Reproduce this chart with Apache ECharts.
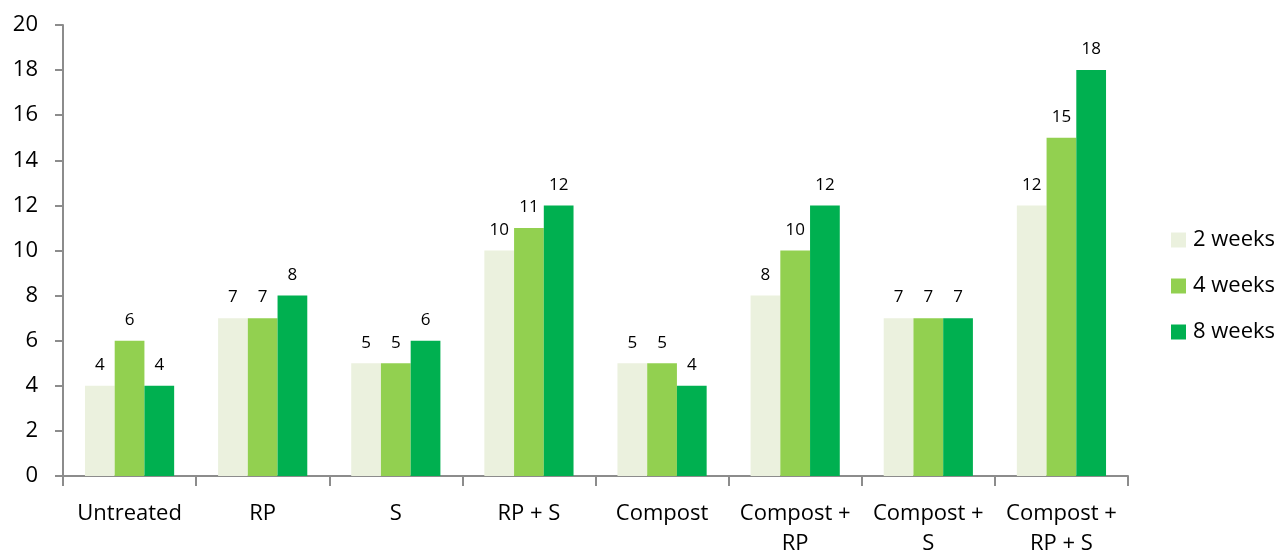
<!DOCTYPE html>
<html>
<head>
<meta charset="utf-8">
<script src="https://cdn.jsdelivr.net/npm/echarts@6/dist/echarts.min.js"></script>
<style>
  html, body { margin: 0; padding: 0; background: #fff; }
  #chart { width: 1281px; height: 551px; }
</style>
</head>
<body>
<div id="chart"></div>
<script>
// Treatments along the x axis
const categories = ['Untreated', 'RP', 'S', 'RP + S', 'Compost', 'Compost +\nRP', 'Compost +\nS', 'Compost +\nRP + S'];

// Values per sampling time
const weeks2 = [4, 7, 5, 10, 5, 8, 7, 12];
const weeks4 = [6, 7, 5, 11, 5, 10, 7, 15];
const weeks8 = [4, 8, 6, 12, 4, 12, 7, 18];

const seriesNames = ['2 weeks', '4 weeks', '8 weeks'];
const seriesColors = ['#EBF1DE', '#92D050', '#00B050'];

const font = '"Open Sans", Lato, sans-serif';

const chart = echarts.init(document.getElementById('chart'));

function barSeries(name, data, color) {
  return {
    name: name,
    type: 'bar',
    data: data,
    barGap: '0%',
    barCategoryGap: '33%',
    itemStyle: { color: color },
    label: {
      show: true,
      position: 'top',
      distance: 12,
      color: '#000',
      fontFamily: font,
      fontSize: 17
    }
  };
}

chart.setOption({
  backgroundColor: '#fff',
  animation: false,
  textStyle: { fontFamily: font },
  grid: { left: 63, right: 153, top: 25, bottom: 75, containLabel: false, outerBoundsMode: 'none' },
  legend: {
    orient: 'vertical',
    left: 1166,
    top: 224,
    itemWidth: 15,
    itemHeight: 15,
    itemGap: 24,
    icon: 'rect',
    textStyle: { fontFamily: font, fontSize: 22, color: '#000', padding: [0, 0, 0, 2] },
    data: seriesNames
  },
  xAxis: {
    type: 'category',
    data: categories,
    axisLine: { lineStyle: { color: '#8c8c8c', width: 2 } },
    axisTick: { show: true, length: 10, alignWithLabel: false, lineStyle: { color: '#8c8c8c', width: 2 } },
    axisLabel: { color: '#000', fontFamily: font, fontSize: 22, margin: 23, lineHeight: 30, interval: 0 }
  },
  yAxis: {
    type: 'value',
    min: 0,
    max: 20,
    interval: 2,
    splitLine: { show: false },
    axisLine: { show: true, lineStyle: { color: '#8c8c8c', width: 2 } },
    axisTick: { show: true, length: 8, lineStyle: { color: '#8c8c8c', width: 2 } },
    axisLabel: { color: '#000', fontFamily: font, fontSize: 22, margin: 25 }
  },
  series: [
    barSeries(seriesNames[0], weeks2, seriesColors[0]),
    barSeries(seriesNames[1], weeks4, seriesColors[1]),
    barSeries(seriesNames[2], weeks8, seriesColors[2])
  ]
});
</script>
</body>
</html>
